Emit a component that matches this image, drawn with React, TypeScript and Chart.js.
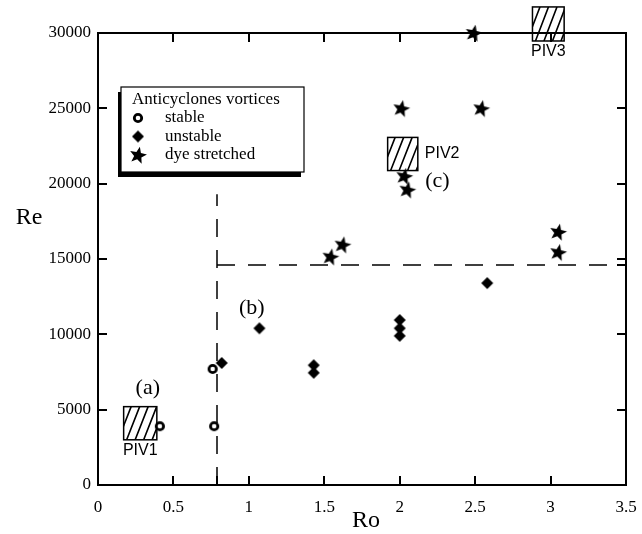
import React, { useEffect, useRef } from 'react';
import { Chart, registerables } from 'chart.js';

Chart.register(...registerables);

// ---------- data ----------
const stableRo = [0.41, 0.77, 0.76];
const stableRe = [3900, 3900, 7700];
const unstableRo = [0.82, 1.07, 1.43, 1.43, 2.0, 2.0, 2.0, 2.58];
const unstableRe = [8100, 10400, 7950, 7450, 10950, 10400, 9900, 13400];
const stretchedRo = [1.54, 1.62, 2.01, 2.03, 2.05, 2.54, 2.49, 3.05, 3.05];
const stretchedRe = [15150, 15950, 25000, 20500, 19600, 25000, 30000, 15450, 16800];

const xTicks = [0, 0.5, 1, 1.5, 2, 2.5, 3, 3.5];
const xTickLabels = ['0', '0.5', '1', '1.5', '2', '2.5', '3', '3.5'];
const yTicks = [0, 5000, 10000, 15000, 20000, 25000, 30000];
const yTickLabels = ['0', '5000', '10000', '15000', '20000', '25000', '30000'];

const seriesLabels = ['stable', 'unstable', 'dye stretched'];
const legendTitle = 'Anticyclones vortices';
const xTitle = 'Ro';
const yTitle = 'Re';

const pivLabels = ['PIV1', 'PIV2', 'PIV3'];
const pivRoMin = [0.17, 1.92, 2.88];
const pivRoMax = [0.39, 2.12, 3.09];
const pivReMin = [3000, 20870, 29470];
const pivReMax = [5200, 23070, 31730];

const regimeLabels = ['(a)', '(b)', '(c)'];
const regimeRo = [0.33, 1.02, 2.25];
const regimeRe = [6440, 11750, 20170];

const boundaryRo = 0.79;
const boundaryRe = 14600;
const boundaryTopRe = 19300;

// ---------- markers ----------
function makeMarker(kind: string): HTMLCanvasElement {
  const c = document.createElement('canvas');
  c.width = 22;
  c.height = 22;
  const ctx = c.getContext('2d')!;
  ctx.fillStyle = '#000';
  ctx.strokeStyle = '#000';
  if (kind === 'circle') {
    ctx.beginPath();
    ctx.arc(11, 11, 3.7, 0, Math.PI * 2);
    ctx.fillStyle = '#fff';
    ctx.fill();
    ctx.lineWidth = 2.8;
    ctx.stroke();
  } else if (kind === 'diamond') {
    ctx.beginPath();
    ctx.moveTo(11, 5);
    ctx.lineTo(17, 11);
    ctx.lineTo(11, 17);
    ctx.lineTo(5, 11);
    ctx.closePath();
    ctx.fill();
  } else {
    const ro = 9, ri = 3.9, rot = (12 * Math.PI) / 180;
    ctx.beginPath();
    for (let i = 0; i < 10; i++) {
      const r = i % 2 === 0 ? ro : ri;
      const a = -Math.PI / 2 + rot + (i * Math.PI) / 5;
      const px = 11 + r * Math.cos(a);
      const py = 11.5 + r * Math.sin(a);
      if (i === 0) ctx.moveTo(px, py);
      else ctx.lineTo(px, py);
    }
    ctx.closePath();
    ctx.fill();
  }
  return c;
}

const SERIF = "'Liberation Serif', 'Times New Roman', serif";
const SANS = "'Liberation Sans', Arial, sans-serif";

export default function App() {
  const ref = useRef<HTMLCanvasElement | null>(null);

  useEffect(() => {
    if (!ref.current) return;
    const markers = [makeMarker('circle'), makeMarker('diamond'), makeMarker('star')];

    const decorPlugin = {
      id: 'decor',
      beforeDatasetsDraw(chart: any) {
        const ctx = chart.ctx as CanvasRenderingContext2D;
        const { left, right, top, bottom } = chart.chartArea;
        const xs = chart.scales.x;
        const ys = chart.scales.y;
        ctx.save();
        ctx.strokeStyle = '#000';
        ctx.lineWidth = 2;
        ctx.strokeRect(left, top, right - left, bottom - top);
        const tl = 9;
        ctx.beginPath();
        xTicks.forEach((v) => {
          const px = Math.round(xs.getPixelForValue(v));
          ctx.moveTo(px, bottom);
          ctx.lineTo(px, bottom - tl);
          ctx.moveTo(px, top);
          ctx.lineTo(px, top + tl);
        });
        yTicks.forEach((v) => {
          const py = Math.round(ys.getPixelForValue(v));
          ctx.moveTo(left, py);
          ctx.lineTo(left + tl, py);
          ctx.moveTo(right, py);
          ctx.lineTo(right - tl, py);
        });
        const bx = Math.round(xs.getPixelForValue(boundaryRo));
        const by = Math.round(ys.getPixelForValue(boundaryRe));
        ctx.moveTo(bx, bottom);
        ctx.lineTo(bx, bottom - tl);
        ctx.moveTo(right, by);
        ctx.lineTo(right - tl, by);
        ctx.stroke();

        // dashed regime boundaries
        ctx.lineWidth = 1.5;
        ctx.setLineDash([18, 13]);
        ctx.beginPath();
        ctx.moveTo(bx, bottom);
        ctx.lineTo(bx, ys.getPixelForValue(boundaryTopRe));
        ctx.stroke();
        ctx.beginPath();
        ctx.moveTo(bx, by);
        ctx.lineTo(right, by);
        ctx.stroke();
        ctx.setLineDash([]);

        // PIV boxes
        pivLabels.forEach((lab, i) => {
          const x0 = xs.getPixelForValue(pivRoMin[i]);
          const x1 = xs.getPixelForValue(pivRoMax[i]);
          const y0 = ys.getPixelForValue(pivReMax[i]);
          const y1 = ys.getPixelForValue(pivReMin[i]);
          const w = x1 - x0, h = y1 - y0;
          ctx.save();
          ctx.beginPath();
          ctx.rect(x0, y0, w, h);
          ctx.clip();
          ctx.lineWidth = 1.6;
          ctx.beginPath();
          for (let k = -14; k < w + 14; k += 8.5) {
            ctx.moveTo(x0 + k, y1);
            ctx.lineTo(x0 + k + 13, y0);
          }
          ctx.stroke();
          ctx.restore();
          ctx.lineWidth = 1.5;
          ctx.strokeRect(x0, y0, w, h);
          ctx.fillStyle = '#000';
          ctx.font = `16px ${SANS}`;
          ctx.textBaseline = 'middle';
          if (i === 1) {
            ctx.textAlign = 'left';
            ctx.fillText(lab, x1 + 7, (y0 + y1) / 2);
          } else {
            ctx.textAlign = 'center';
            ctx.fillText(lab, (x0 + x1) / 2, y1 + 11);
          }
        });

        // regime labels
        ctx.font = `22px ${SERIF}`;
        ctx.textAlign = 'center';
        ctx.textBaseline = 'middle';
        ctx.fillStyle = '#000';
        regimeLabels.forEach((lab, i) => {
          ctx.fillText(lab, xs.getPixelForValue(regimeRo[i]), ys.getPixelForValue(regimeRe[i]));
        });

        // axis titles
        ctx.font = `24px ${SERIF}`;
        ctx.fillText(yTitle, 29, 218);
        ctx.fillText(xTitle, 366, 521);
        ctx.restore();
      },
      afterDatasetsDraw(chart: any) {
        const ctx = chart.ctx as CanvasRenderingContext2D;
        ctx.save();
        const bx = 121, by = 87, bw = 183, bh = 85;
        ctx.fillStyle = '#000';
        ctx.fillRect(bx - 3, by + 5, bw, bh);
        ctx.fillStyle = '#fff';
        ctx.fillRect(bx, by, bw, bh);
        ctx.strokeStyle = '#000';
        ctx.lineWidth = 1.2;
        ctx.strokeRect(bx, by, bw, bh);
        ctx.fillStyle = '#000';
        ctx.textAlign = 'left';
        ctx.textBaseline = 'middle';
        ctx.font = `17px ${SERIF}`;
        ctx.fillText(legendTitle, 132, 100);
        seriesLabels.forEach((lab, i) => {
          const cy = 118 + i * 18.5;
          ctx.drawImage(markers[i], 138 - 11, cy - 11);
          ctx.fillText(lab, 165, cy);
        });
        ctx.restore();
      },
    };

    const toPts = (xs: number[], ys: number[]) => xs.map((x, i) => ({ x, y: ys[i] }));

    const chart = new Chart(ref.current, {
      type: 'scatter',
      data: {
        datasets: [
          { label: seriesLabels[0], data: toPts(stableRo, stableRe), pointStyle: markers[0] as any, clip: false as any },
          { label: seriesLabels[1], data: toPts(unstableRo, unstableRe), pointStyle: markers[1] as any, clip: false as any },
          { label: seriesLabels[2], data: toPts(stretchedRo, stretchedRe), pointStyle: markers[2] as any, clip: false as any },
        ],
      },
      options: {
        animation: false,
        responsive: true,
        maintainAspectRatio: false,
        layout: { padding: { left: 0, top: 33, right: 16, bottom: 0 } },
        plugins: { legend: { display: false }, tooltip: { enabled: false } },
        scales: {
          x: {
            type: 'linear',
            min: 0,
            max: 3.5,
            afterFit: (s: any) => { s.height = 49; s.paddingLeft = 0; s.paddingRight = 0; },
            afterBuildTicks: (s: any) => { s.ticks = xTicks.map((v) => ({ value: v })); },
            grid: { display: false, drawTicks: false },
            border: { display: false },
            ticks: {
              padding: 12,
              color: '#000',
              font: { family: SERIF, size: 17 },
              maxRotation: 0,
              autoSkip: false,
              callback: (v: any) => {
                const i = xTicks.indexOf(Number(v));
                return i >= 0 ? xTickLabels[i] : '';
              },
            },
          },
          y: {
            type: 'linear',
            min: 0,
            max: 30000,
            afterFit: (s: any) => { s.width = 98; s.paddingTop = 0; s.paddingBottom = 0; },
            afterBuildTicks: (s: any) => { s.ticks = yTicks.map((v) => ({ value: v })); },
            grid: { display: false, drawTicks: false },
            border: { display: false },
            ticks: {
              padding: 7,
              color: '#000',
              font: { family: SERIF, size: 17 },
              autoSkip: false,
              callback: (v: any) => {
                const i = yTicks.indexOf(Number(v));
                return i >= 0 ? yTickLabels[i] : '';
              },
            },
          },
        },
      },
      plugins: [decorPlugin],
    });
    return () => chart.destroy();
  }, []);

  return (
    <div style={{ position: 'absolute', left: 0, top: 0, width: 642, height: 534, background: '#fff' }}>
      <canvas ref={ref} />
    </div>
  );
}
